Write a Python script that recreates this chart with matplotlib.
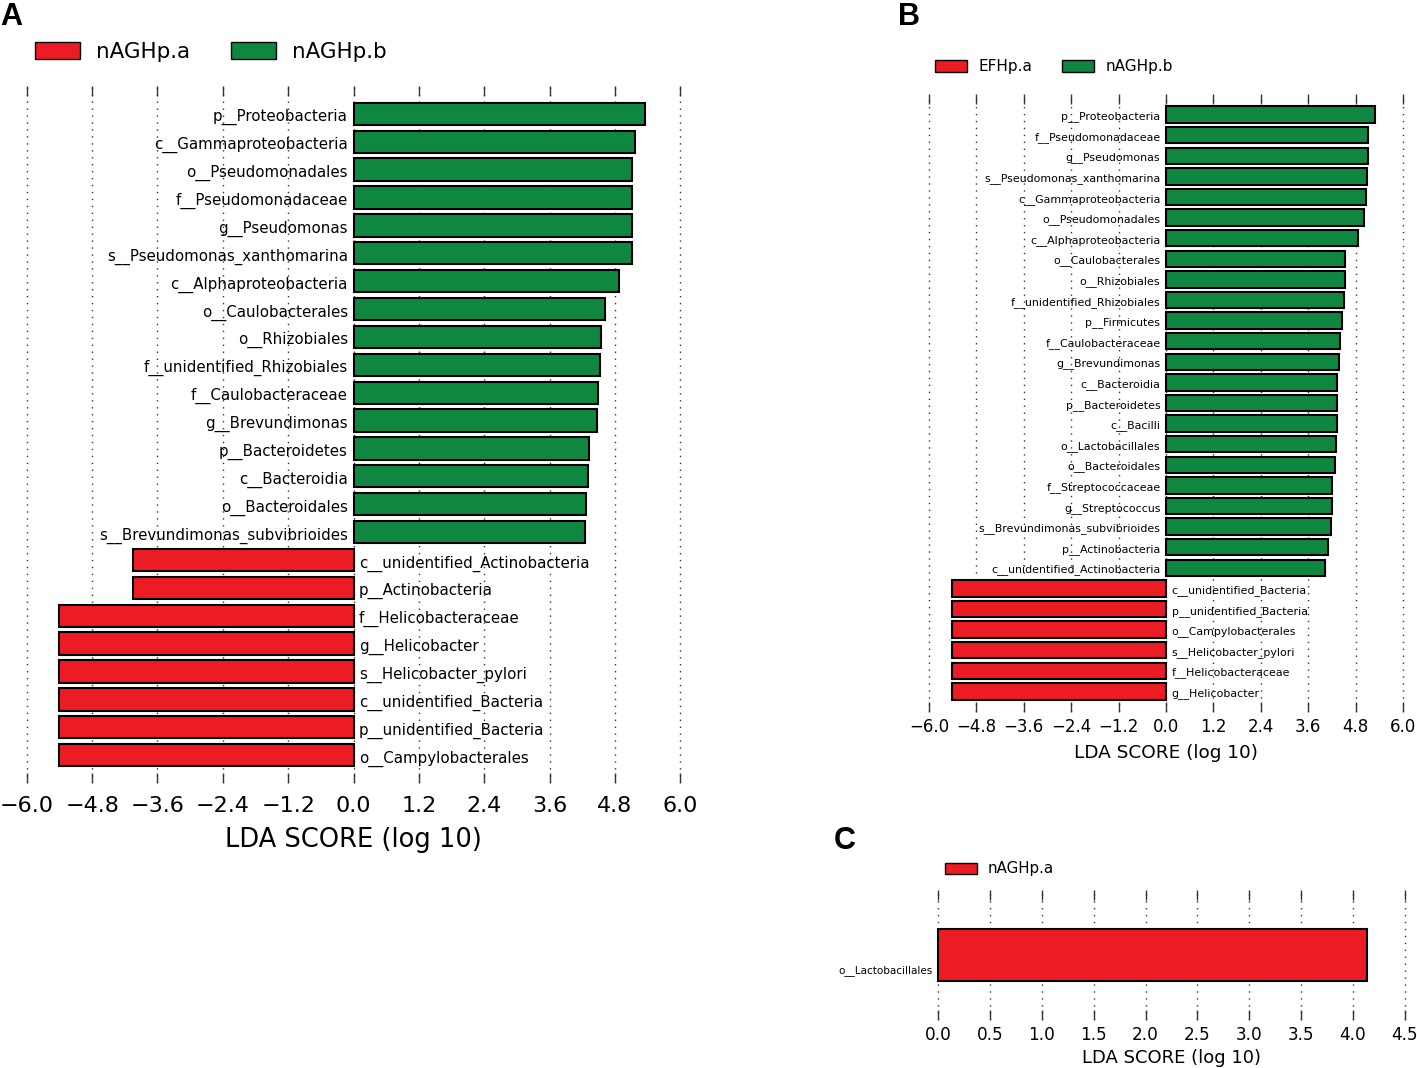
import numpy as np
import matplotlib
matplotlib.use('Agg')
import matplotlib.pyplot as plt
from matplotlib.patches import Patch

RED = '#EC1C24'
GREEN = '#108740'

# ---- panel A (top to bottom) ----
a_names = ['p__Proteobacteria', 'c__Gammaproteobacteria', 'o__Pseudomonadales',
           'f__Pseudomonadaceae', 'g__Pseudomonas', 's__Pseudomonas_xanthomarina',
           'c__Alphaproteobacteria', 'o__Caulobacterales', 'o__Rhizobiales',
           'f__unidentified_Rhizobiales', 'f__Caulobacteraceae', 'g__Brevundimonas',
           'p__Bacteroidetes', 'c__Bacteroidia', 'o__Bacteroidales',
           's__Brevundimonas_subvibrioides', 'c__unidentified_Actinobacteria',
           'p__Actinobacteria', 'f__Helicobacteraceae', 'g__Helicobacter',
           's__Helicobacter_pylori', 'c__unidentified_Bacteria',
           'p__unidentified_Bacteria', 'o__Campylobacterales']
a_scores = [5.35, 5.17, 5.12, 5.12, 5.12, 5.11, 4.88, 4.61, 4.54, 4.53, 4.49, 4.48,
            4.32, 4.31, 4.27, 4.25, -4.04, -4.04, -5.41, -5.41, -5.41, -5.41,
            -5.41, -5.41]
a_groups = ['nAGHp.a', 'nAGHp.b']

# ---- panel B (top to bottom) ----
b_names = ['p__Proteobacteria', 'f__Pseudomonadaceae', 'g__Pseudomonas',
           's__Pseudomonas_xanthomarina', 'c__Gammaproteobacteria',
           'o__Pseudomonadales', 'c__Alphaproteobacteria', 'o__Caulobacterales',
           'o__Rhizobiales', 'f__unidentified_Rhizobiales', 'p__Firmicutes',
           'f__Caulobacteraceae', 'g__Brevundimonas', 'c__Bacteroidia',
           'p__Bacteroidetes', 'c__Bacilli', 'o__Lactobacillales',
           'o__Bacteroidales', 'f__Streptococcaceae', 'g__Streptococcus',
           's__Brevundimonas_subvibrioides', 'p__Actinobacteria',
           'c__unidentified_Actinobacteria', 'c__unidentified_Bacteria',
           'p__unidentified_Bacteria', 'o__Campylobacterales',
           's__Helicobacter_pylori', 'f__Helicobacteraceae', 'g__Helicobacter']
b_scores = [5.28, 5.11, 5.11, 5.09, 5.06, 5.02, 4.85, 4.54, 4.53, 4.51, 4.45,
            4.40, 4.39, 4.34, 4.34, 4.33, 4.31, 4.28, 4.21, 4.20, 4.17, 4.09,
            4.03, -5.41, -5.41, -5.41, -5.41, -5.41, -5.41]
b_groups = ['EFHp.a', 'nAGHp.b']

# ---- panel C ----
c_names = ['o__Lactobacillales']
c_scores = [4.13]
c_groups = ['nAGHp.a']

ticks_ab = [-6.0, -4.8, -3.6, -2.4, -1.2, 0.0, 1.2, 2.4, 3.6, 4.8, 6.0]
ticks_c = [0.0, 0.5, 1.0, 1.5, 2.0, 2.5, 3.0, 3.5, 4.0, 4.5]

W, H = 1417, 1068
fig = plt.figure(figsize=(W / 100, H / 100), dpi=100)
plt.rcParams['font.family'] = 'DejaVu Sans'


def px(l, t, r, b):
    return [l / W, 1 - b / H, (r - l) / W, (b - t) / H]


def lefse(ax, names, scores, cols, xlim, ticks, fs_lab, fs_tick, fs_xl, tpad, lpad, voff):
    n = len(names)
    y = np.arange(n)[::-1]
    ax.barh(y, scores, height=0.8, color=cols, edgecolor='black', linewidth=1.5, zorder=2)
    for yi, name, s in zip(y, names, scores):
        if s >= 0:
            ax.annotate(name, (0, yi), xytext=(-4, voff), textcoords='offset points',
                        ha='right', va='center', fontsize=fs_lab, zorder=3)
        else:
            ax.annotate(name, (0, yi), xytext=(4, voff), textcoords='offset points',
                        ha='left', va='center', fontsize=fs_lab, zorder=3)
    ax.set_xlim(*xlim)
    ax.set_ylim(-1, n)
    ax.set_xticks(ticks)
    ax.set_xticklabels(['%.1f' % t if t >= 0 else '\u2212%.1f' % -t for t in ticks],
                       fontsize=fs_tick)
    ax.set_yticks([])
    ax.set_frame_on(False)
    ax.tick_params(axis='x', top=True, bottom=True, direction='in', length=7,
                   width=1, color='#333333', pad=tpad)
    ax.xaxis.grid(True, linestyle=(0, (1, 4)), color='#333333', linewidth=1, zorder=0)
    ax.set_axisbelow(True)
    ax.set_xlabel('LDA SCORE (log 10)', fontsize=fs_xl, labelpad=lpad)


def group_colors(scores, neg, pos):
    return [neg if s < 0 else pos for s in scores]


axA = fig.add_axes(px(24, 86, 683, 783))
lefse(axA, a_names, a_scores, group_colors(a_scores, RED, GREEN), (-6.05, 6.05),
      ticks_ab, 10.8, 16, 18.5, 9, 8, -2.5)

axB = fig.add_axes(px(927, 94, 1405, 712))
lefse(axB, b_names, b_scores, group_colors(b_scores, RED, GREEN), (-6.05, 6.05),
      ticks_ab, 7.9, 12, 13.3, 4, 6, -1.5)

axC = fig.add_axes(px(936, 890, 1407, 1020))
lefse(axC, c_names, c_scores, [RED] * len(c_scores), (-0.02, 4.52),
      ticks_c, 7.5, 12.2, 13, 4, 4, -11)

# legends
fig.legend(handles=[Patch(facecolor=RED, edgecolor='black'),
                    Patch(facecolor=GREEN, edgecolor='black')],
           labels=a_groups, loc='center left', bbox_to_anchor=(35 / W, 1 - 52 / H),
           ncol=2, frameon=False, fontsize=15.4, handlelength=2.1, handleheight=0.85,
           handletextpad=0.75, columnspacing=1.9, borderpad=0, borderaxespad=0)
fig.legend(handles=[Patch(facecolor=RED, edgecolor='black'),
                    Patch(facecolor=GREEN, edgecolor='black')],
           labels=b_groups, loc='center left', bbox_to_anchor=(935 / W, 1 - 67 / H),
           ncol=2, frameon=False, fontsize=11, handlelength=2.1, handleheight=0.8,
           handletextpad=0.75, columnspacing=1.95, borderpad=0, borderaxespad=0)
fig.legend(handles=[Patch(facecolor=RED, edgecolor='black')],
           labels=c_groups, loc='center left', bbox_to_anchor=(945 / W, 1 - 869 / H),
           ncol=1, frameon=False, fontsize=10.8, handlelength=2.1, handleheight=0.8,
           handletextpad=0.75, borderpad=0, borderaxespad=0)

# panel letters
for x, yb, s in [(0, 25, 'A'), (898, 25, 'B'), (834, 849, 'C')]:
    fig.text(x / W, 1 - yb / H, s, fontsize=22, fontweight='bold',
             family='Liberation Sans', va='baseline', ha='left')

fig.savefig('out.png', dpi=100)
